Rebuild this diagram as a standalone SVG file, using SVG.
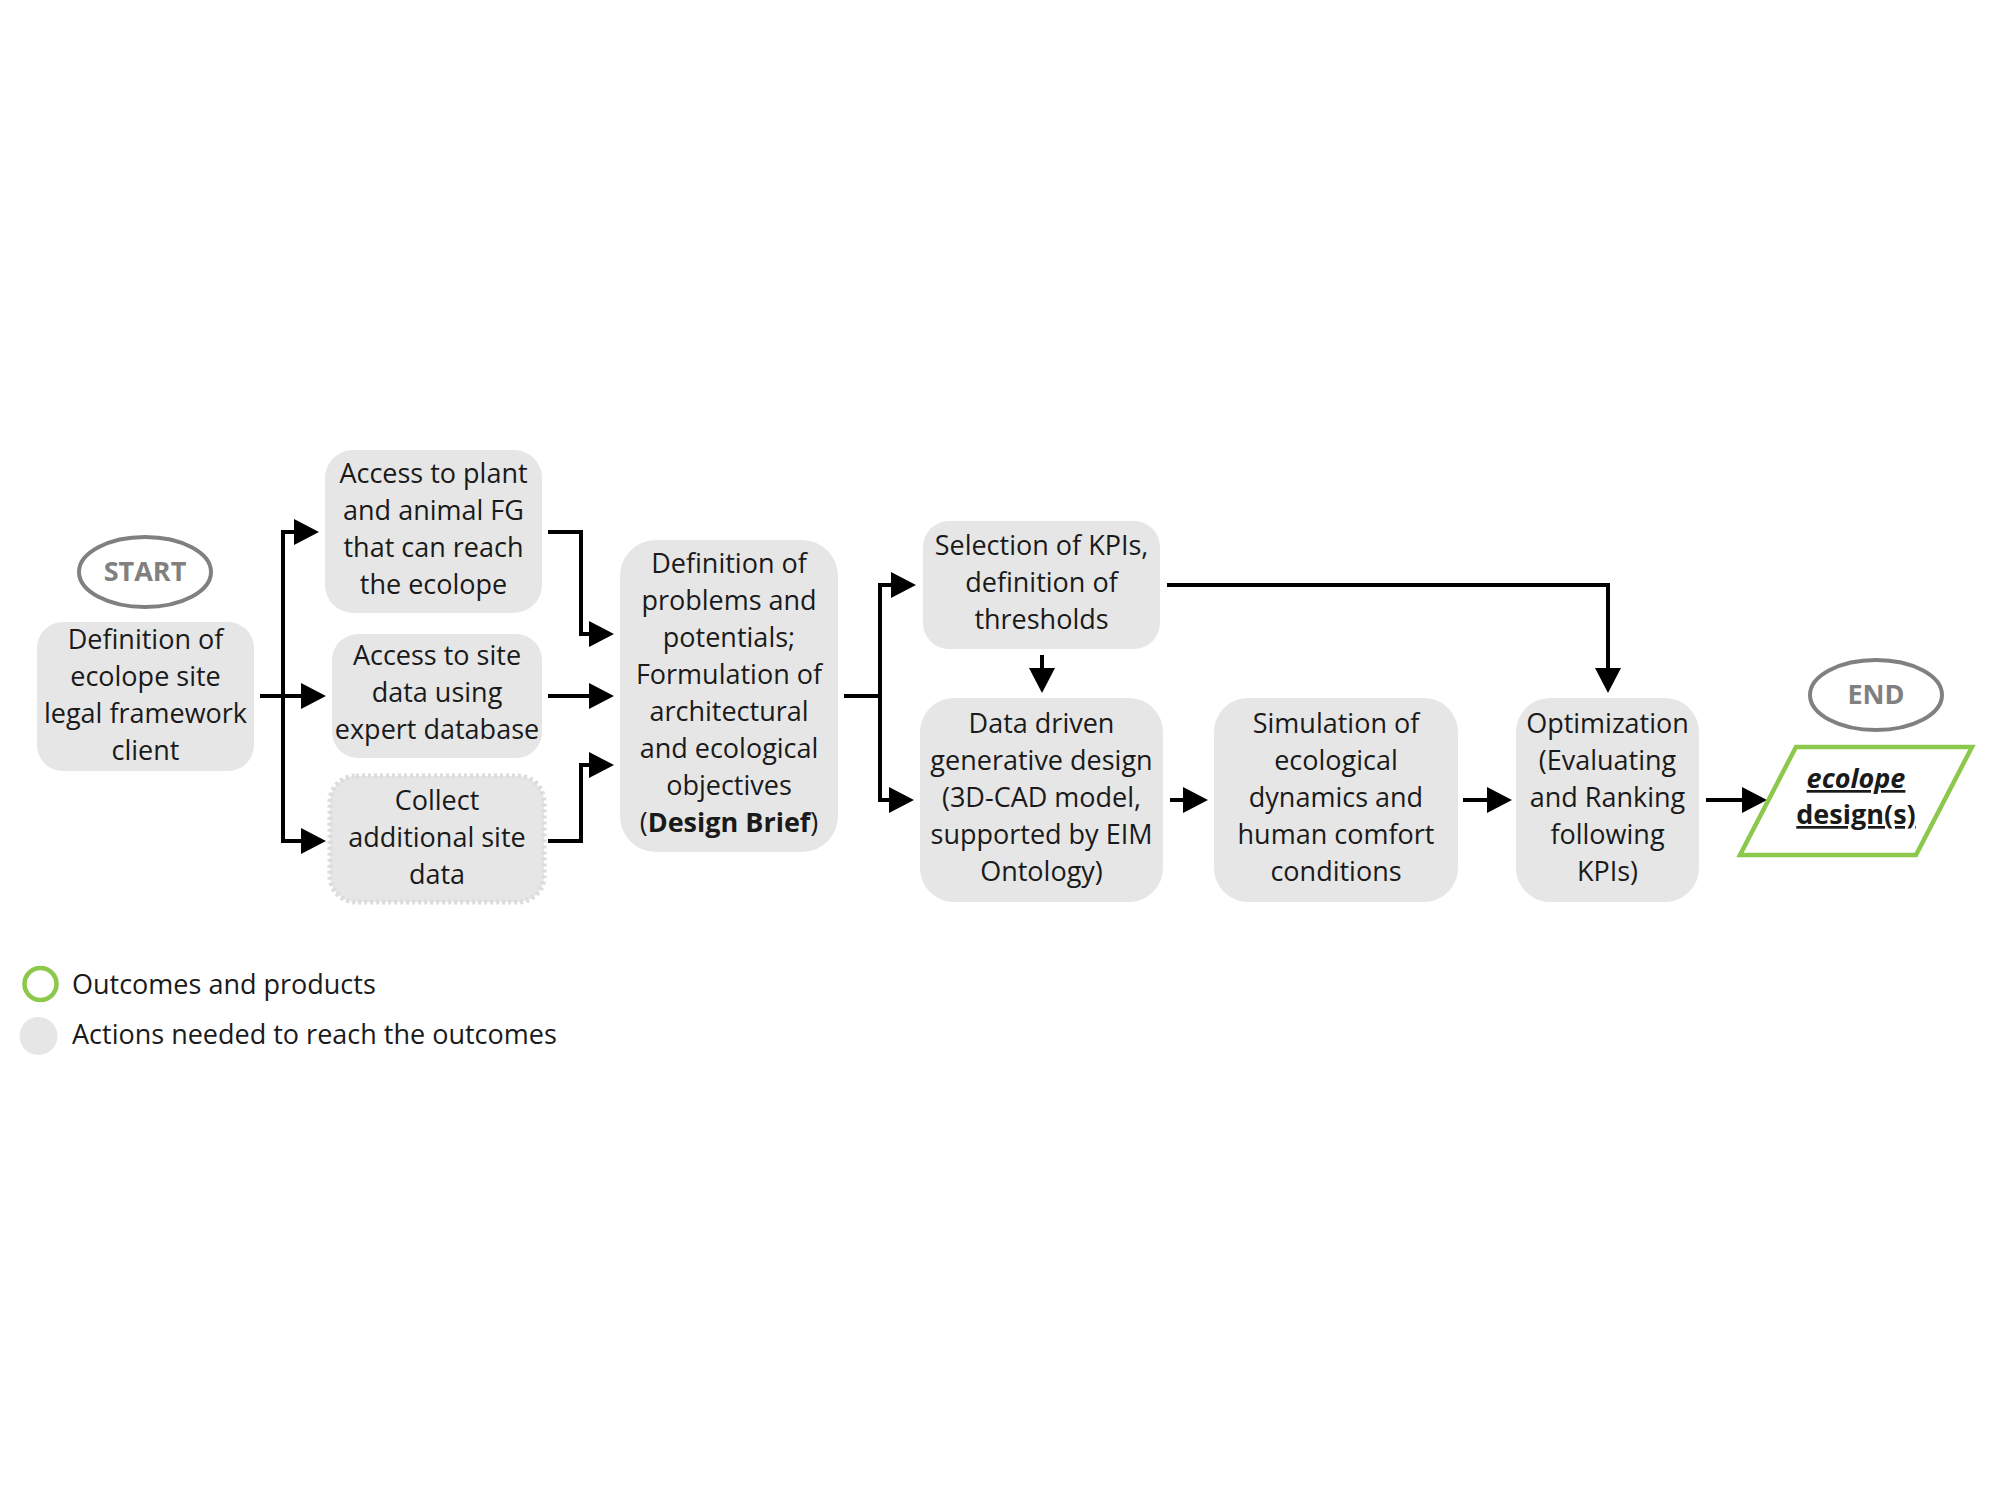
<svg xmlns="http://www.w3.org/2000/svg" width="2000" height="1500" viewBox="0 0 2000 1500">
<style>
.box{fill:#e6e6e6;}
.t{font-family:"Open Sans","Noto Sans","DejaVu Sans",sans-serif;font-size:27px;fill:#1a1a1a;text-anchor:middle;}
.term{fill:none;stroke:#808080;stroke-width:4;}
.tt{font-family:"Open Sans","Noto Sans","DejaVu Sans",sans-serif;font-size:27px;font-weight:bold;fill:#808080;text-anchor:middle;}
.c{fill:none;stroke:#000;stroke-width:4;}
.ca{fill:none;stroke:#000;stroke-width:4;marker-end:url(#ah);}
.lg{font-family:"Open Sans","Noto Sans","DejaVu Sans",sans-serif;font-size:27px;fill:#1a1a1a;}
</style>
<defs>
<marker id="ah" markerUnits="userSpaceOnUse" markerWidth="25" markerHeight="26" viewBox="0 0 25 26" refX="17" refY="13" orient="auto">
<path d="M0,0 L25,13 L0,26 z" fill="#000"/>
</marker>
</defs>
<rect width="2000" height="1500" fill="#fff"/>

<g id="connectors">
<path class="ca" d="M283,696 V532 H311"/>
<path class="ca" d="M260,696 H318"/>
<path class="ca" d="M283,696 V841 H318"/>
<path class="ca" d="M548,532 H581 V634 H606"/>
<path class="ca" d="M548,696 H606"/>
<path class="ca" d="M548,841 H581 V765 H606"/>
<path class="ca" d="M844,696 H880 V585 H908"/>
<path class="ca" d="M880,696 V800 H906"/>
<path class="ca" d="M1042,655 V685"/>
<path class="ca" d="M1167,585 H1608 V685"/>
<path class="ca" d="M1170,800 H1200"/>
<path class="ca" d="M1463,800 H1504"/>
<path class="ca" d="M1706,800 H1759"/>
</g>

<g id="start">
<ellipse class="term" cx="145" cy="572" rx="66" ry="35"/>
<text class="tt" x="145" y="581">START</text>
</g>

<g id="n-definition-site">
<rect class="box" x="37" y="622" width="217" height="149" rx="26"/>
<text class="t" x="145.5" y="649">Definition of</text>
<text class="t" x="145.5" y="686">ecolope site</text>
<text class="t" x="145.5" y="723">legal framework</text>
<text class="t" x="145.5" y="760">client</text>
</g>

<g id="n-access-plant">
<rect class="box" x="325" y="450" width="217" height="163" rx="28"/>
<text class="t" x="433.5" y="483">Access to plant</text>
<text class="t" x="433.5" y="520">and animal FG</text>
<text class="t" x="433.5" y="557">that can reach</text>
<text class="t" x="433.5" y="594">the ecolope</text>
</g>

<g id="n-access-site">
<rect class="box" x="332" y="634" width="210" height="124" rx="26"/>
<text class="t" x="437" y="665">Access to site</text>
<text class="t" x="437" y="702">data using</text>
<text class="t" x="437" y="739">expert database</text>
</g>

<g id="n-collect">
<rect class="box" x="330" y="776" width="214" height="126" rx="26" stroke="#dcdcdc" stroke-width="5" stroke-dasharray="3 3"/>
<text class="t" x="437" y="810">Collect</text>
<text class="t" x="437" y="847">additional site</text>
<text class="t" x="437" y="884">data</text>
</g>

<g id="n-design-brief">
<rect class="box" x="620" y="540" width="218" height="312" rx="36"/>
<text class="t" x="729" y="573">Definition of</text>
<text class="t" x="729" y="610">problems and</text>
<text class="t" x="729" y="647">potentials;</text>
<text class="t" x="729" y="684">Formulation of</text>
<text class="t" x="729" y="721">architectural</text>
<text class="t" x="729" y="758">and ecological</text>
<text class="t" x="729" y="795">objectives</text>
<text class="t" x="729" y="832">(<tspan font-weight="bold">Design Brief</tspan>)</text>
</g>

<g id="n-kpis">
<rect class="box" x="923" y="521" width="237" height="128" rx="26"/>
<text class="t" x="1041.5" y="555">Selection of KPIs,</text>
<text class="t" x="1041.5" y="592">definition of</text>
<text class="t" x="1041.5" y="629">thresholds</text>
</g>

<g id="n-generative">
<rect class="box" x="920" y="698" width="243" height="204" rx="34"/>
<text class="t" x="1041.5" y="733">Data driven</text>
<text class="t" x="1041.5" y="770">generative design</text>
<text class="t" x="1041.5" y="807">(3D-CAD model,</text>
<text class="t" x="1041.5" y="844">supported by EIM</text>
<text class="t" x="1041.5" y="881">Ontology)</text>
</g>

<g id="n-simulation">
<rect class="box" x="1214" y="698" width="244" height="204" rx="34"/>
<text class="t" x="1336" y="733">Simulation of</text>
<text class="t" x="1336" y="770">ecological</text>
<text class="t" x="1336" y="807">dynamics and</text>
<text class="t" x="1336" y="844">human comfort</text>
<text class="t" x="1336" y="881">conditions</text>
</g>

<g id="n-optimization">
<rect class="box" x="1516" y="698" width="183" height="204" rx="34"/>
<text class="t" x="1607.5" y="733">Optimization</text>
<text class="t" x="1607.5" y="770">(Evaluating</text>
<text class="t" x="1607.5" y="807">and Ranking</text>
<text class="t" x="1607.5" y="844">following</text>
<text class="t" x="1607.5" y="881">KPIs)</text>
</g>

<g id="end">
<ellipse class="term" cx="1876" cy="695" rx="66" ry="35"/>
<text class="tt" x="1876" y="704">END</text>
</g>

<g id="n-ecolope-designs">
<polygon points="1796,747 1972,747 1916,855 1740,855" fill="#fff" stroke="#8cc84b" stroke-width="4.5"/>
<text class="t" x="1856" y="788" font-weight="bold" font-style="italic" text-decoration="underline">ecolope</text>
<text class="t" x="1856" y="824" font-weight="bold" text-decoration="underline">design(s)</text>
</g>

<g id="legend">
<circle cx="40.5" cy="984" r="16" fill="none" stroke="#8cc84b" stroke-width="4.5"/>
<text class="lg" x="72" y="994">Outcomes and products</text>
<circle cx="38.5" cy="1036" r="19" fill="#e6e6e6"/>
<text class="lg" x="72" y="1044">Actions needed to reach the outcomes</text>
</g>
</svg>
